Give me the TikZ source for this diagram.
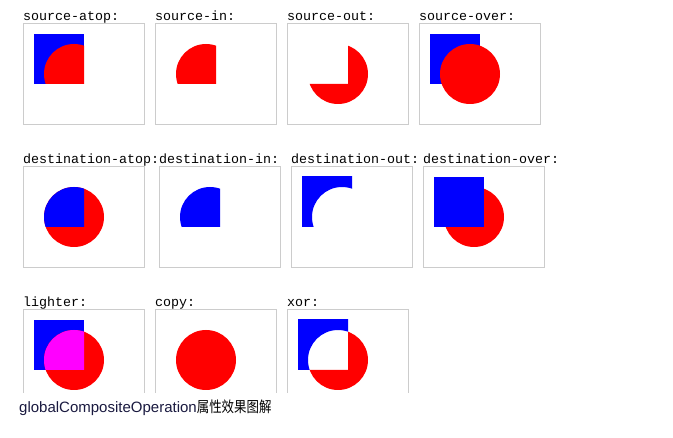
\documentclass[tikz,border=0pt]{standalone}
\usepackage{fontspec}
\setmonofont{Liberation Mono}
\newfontfamily\capfont{Liberation Sans}
\newfontfamily\cjkfont[FakeStretch=0.83]{Noto Sans CJK SC}
\definecolor{boxgray}{HTML}{CCCCCC}
\definecolor{capblue}{HTML}{1A1A40}
\definecolor{pblue}{HTML}{0000FF}
\definecolor{pred}{HTML}{FF0000}
\definecolor{pmag}{HTML}{FF00FF}
\tikzset{
  canvasbox/.style={draw=boxgray, line width=1pt, minimum width=121pt,
    minimum height=101pt, inner sep=0pt, outer sep=0pt, anchor=north west},
  oplabel/.style={anchor=base west, inner sep=0pt,
    font=\ttfamily\fontsize{13.33}{15}\selectfont},
  caption/.style={anchor=base west, inner sep=0pt},
}
\def\sq{(10,10) rectangle (60,60)}
\def\ci{(50,50) circle[radius=30pt]}
\def\big{(2,2) rectangle (118,98)}
\newcommand\mypanel[5]{%
  \node[oplabel] (#1l) at (#2,#3-2.5) {#4};
  \node[canvasbox] (#1) at (#2+0.5,#3+0.5) {};
  \begin{scope}[shift={(#2+1,#3+1)}]#5\end{scope}%
}
\begin{document}
\begin{tikzpicture}[x=1pt,y=-1pt]
\useasboundingbox (0,0) rectangle (673,438);
\fill[white] (0,0) rectangle (673,438);
% row 1
\mypanel{satop}{23}{23}{source-atop:}{%
  \fill[pblue] \sq;
  \begin{scope}\clip \sq; \fill[pred] \ci; \end{scope}}
\mypanel{sin}{155}{23}{source-in:}{%
  \begin{scope}\clip \sq; \fill[pred] \ci; \end{scope}}
\mypanel{sout}{287}{23}{source-out:}{%
  \begin{scope}\clip \ci; \fill[pred, even odd rule] \big \sq; \end{scope}}
\mypanel{sover}{419}{23}{source-over:}{%
  \fill[pblue] \sq;
  \fill[pred] \ci;}
% row 2
\mypanel{datop}{23}{166}{destination-atop:}{%
  \fill[pred] \ci;
  \begin{scope}\clip \sq; \fill[pblue] \ci; \end{scope}}
\mypanel{din}{159}{166}{destination-in:}{%
  \begin{scope}\clip \sq; \fill[pblue] \ci; \end{scope}}
\mypanel{dout}{291}{166}{destination-out:}{%
  \begin{scope}\clip \sq; \fill[pblue, even odd rule] \big \ci; \end{scope}}
\mypanel{dover}{423}{166}{destination-over:}{%
  \fill[pred] \ci;
  \fill[pblue] \sq;}
% row 3 (cut off at the bottom)
\begin{scope}
\clip (0,0) rectangle (673,393);
\mypanel{light}{23}{309}{lighter:}{%
  \fill[pblue] \sq;
  \fill[pred] \ci;
  \begin{scope}\clip \sq; \fill[pmag] \ci; \end{scope}}
\mypanel{copy}{155}{309}{copy:}{%
  \fill[pred] \ci;}
\mypanel{xor}{287}{309}{xor:}{%
  \begin{scope}\clip \sq; \fill[pblue, even odd rule] \big \ci; \end{scope}
  \begin{scope}\clip \ci; \fill[pred, even odd rule] \big \sq; \end{scope}}
\end{scope}
% caption
\node[caption] (cap) at (19,412.5) {\capfont\fontsize{15}{18}\selectfont\color{capblue}globalCompositeOperation\cjkfont\fontsize{15}{18}\selectfont\color{black}属性效果图解};
\end{tikzpicture}
\end{document}
